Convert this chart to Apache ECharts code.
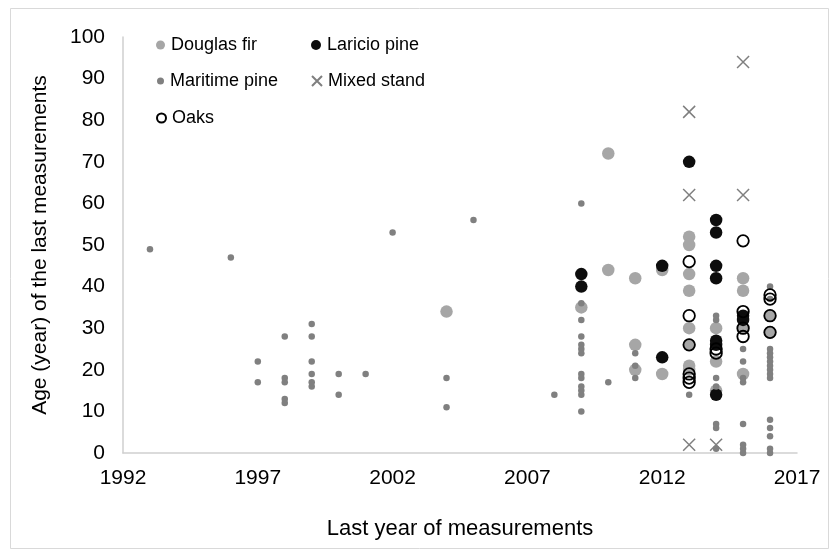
<!DOCTYPE html>
<html>
<head>
<meta charset="utf-8">
<script src="https://cdn.jsdelivr.net/npm/echarts@6/dist/echarts.min.js"></script>
<style>
  html, body { margin: 0; padding: 0; background: #fff; }
  #chart { width: 840px; height: 556px; }
</style>
</head>
<body>
<div id="chart"></div>
<script>
// [year, age]
var douglasFir = [
  [2004, 34], [2009, 35], [2010, 72], [2010, 44], [2011, 42], [2011, 26], [2011, 20],
  [2012, 44], [2012, 19], [2013, 52], [2013, 50], [2013, 43], [2013, 39], [2013, 30],
  [2013, 26], [2013, 21], [2013, 20], [2014, 30], [2014, 22], [2014, 15],
  [2015, 42], [2015, 39], [2015, 30], [2015, 19], [2016, 33], [2016, 29]
];
var laricioPine = [
  [2009, 43], [2009, 40], [2012, 45], [2012, 23], [2013, 70], [2014, 56], [2014, 53],
  [2014, 45], [2014, 42], [2014, 27], [2014, 26], [2014, 14], [2015, 33], [2015, 32]
];
var maritimePine = [
  [1993, 49], [1996, 47], [1997, 22], [1997, 17], [1998, 28], [1998, 18], [1998, 17],
  [1998, 13], [1998, 12], [1999, 31], [1999, 28], [1999, 22], [1999, 19], [1999, 17],
  [1999, 16], [2000, 19], [2000, 14], [2001, 19], [2002, 53], [2004, 18], [2004, 11],
  [2005, 56], [2008, 14],
  [2009, 60], [2009, 36], [2009, 32], [2009, 28], [2009, 26], [2009, 25], [2009, 24],
  [2009, 19], [2009, 18], [2009, 16], [2009, 15], [2009, 14], [2009, 10],
  [2010, 17], [2011, 24], [2011, 21], [2011, 18], [2013, 14],
  [2014, 33], [2014, 32], [2014, 18], [2014, 16], [2014, 7], [2014, 6], [2014, 1],
  [2015, 25], [2015, 22], [2015, 18], [2015, 17], [2015, 7], [2015, 2], [2015, 1], [2015, 0],
  [2016, 40], [2016, 37], [2016, 25], [2016, 24], [2016, 23], [2016, 22], [2016, 21],
  [2016, 20], [2016, 19], [2016, 18], [2016, 8], [2016, 6], [2016, 4], [2016, 1], [2016, 0]
];
var mixedStand = [
  [2013, 82], [2013, 62], [2013, 2], [2014, 2], [2015, 94], [2015, 62]
];
var oaks = [
  [2013, 46], [2013, 33], [2013, 26], [2013, 19], [2013, 18], [2013, 17],
  [2014, 25], [2014, 24], [2015, 51], [2015, 34], [2015, 30], [2015, 28],
  [2016, 38], [2016, 37], [2016, 33], [2016, 29]
];
var xTicks = [1992, 1997, 2002, 2007, 2012, 2017];

var FONT = '"Liberation Sans", Arial, sans-serif';
var crossPath = 'path://M0,0L10,10M0,10L10,0';

// one legend box per entry so the two columns line up like the original
function legendItem(name, x, y, size) {
  return {
    data: [name],
    left: x, top: y,
    padding: 0,
    itemWidth: size, itemHeight: size,
    itemGap: 0,
    selectedMode: false,
    textStyle: { fontFamily: FONT, fontSize: 18, color: '#000', padding: [0, 0, 0, 1] }
  };
}

var myChart = echarts.init(document.getElementById('chart'));

var option = {
  backgroundColor: '#fff',
  animation: false,
  graphic: [{
    type: 'rect',
    shape: { x: 10.5, y: 8.5, width: 818, height: 540 },
    style: { fill: 'none', stroke: '#d9d9d9', lineWidth: 1 },
    silent: true
  }],
  grid: { left: 123, right: 43, top: 37, bottom: 103 },
  legend: [
    legendItem('Douglas fir', 156, 36, 9),
    legendItem('Laricio pine', 311, 36, 10),
    legendItem('Maritime pine', 157, 72, 7),
    legendItem('Mixed stand', 311, 72, 10),
    legendItem('Oaks', 156, 109, 9)
  ],
  xAxis: {
    type: 'value',
    min: 1992, max: 2017,
    name: 'Last year of measurements',
    nameLocation: 'middle',
    nameGap: 65,
    nameTextStyle: { fontFamily: FONT, fontSize: 22, color: '#000' },
    axisLine: { show: true, lineStyle: { color: '#cfcfcf', width: 1.5 } },
    axisTick: { show: false },
    splitLine: { show: false },
    axisLabel: {
      customValues: xTicks,
      formatter: function (v) { return String(v); },
      fontFamily: FONT, fontSize: 21, color: '#000', margin: 15
    }
  },
  yAxis: {
    type: 'value',
    min: 0, max: 100, interval: 10,
    name: 'Age (year) of the last measurements',
    nameLocation: 'middle',
    nameGap: 72,
    nameTextStyle: { fontFamily: FONT, fontSize: 21, color: '#000' },
    axisLine: { show: true, lineStyle: { color: '#cfcfcf', width: 1.5 } },
    axisTick: { show: false },
    splitLine: { show: false },
    axisLabel: { fontFamily: FONT, fontSize: 21, color: '#000', margin: 18 }
  },
  series: [
    {
      name: 'Douglas fir', type: 'scatter', data: douglasFir,
      symbol: 'circle', symbolSize: 12.5,
      itemStyle: { color: '#a6a6a6', opacity: 1 }
    },
    {
      name: 'Laricio pine', type: 'scatter', data: laricioPine,
      symbol: 'circle', symbolSize: 12.5,
      itemStyle: { color: '#0d0d0d', opacity: 1 }
    },
    {
      name: 'Maritime pine', type: 'scatter', data: maritimePine,
      symbol: 'circle', symbolSize: 6.5,
      itemStyle: { color: '#808080', opacity: 1 }
    },
    {
      name: 'Mixed stand', type: 'scatter', data: mixedStand,
      symbol: crossPath, symbolSize: 12,
      itemStyle: { color: 'rgba(0,0,0,0)', borderColor: '#7f7f7f', borderWidth: 1.5, opacity: 1 }
    },
    {
      name: 'Oaks', type: 'scatter', data: oaks,
      symbol: 'circle', symbolSize: 11.5,
      itemStyle: { color: 'rgba(0,0,0,0)', borderColor: '#000', borderWidth: 1.8, opacity: 1 }
    }
  ]
};

myChart.setOption(option);
</script>
</body>
</html>
